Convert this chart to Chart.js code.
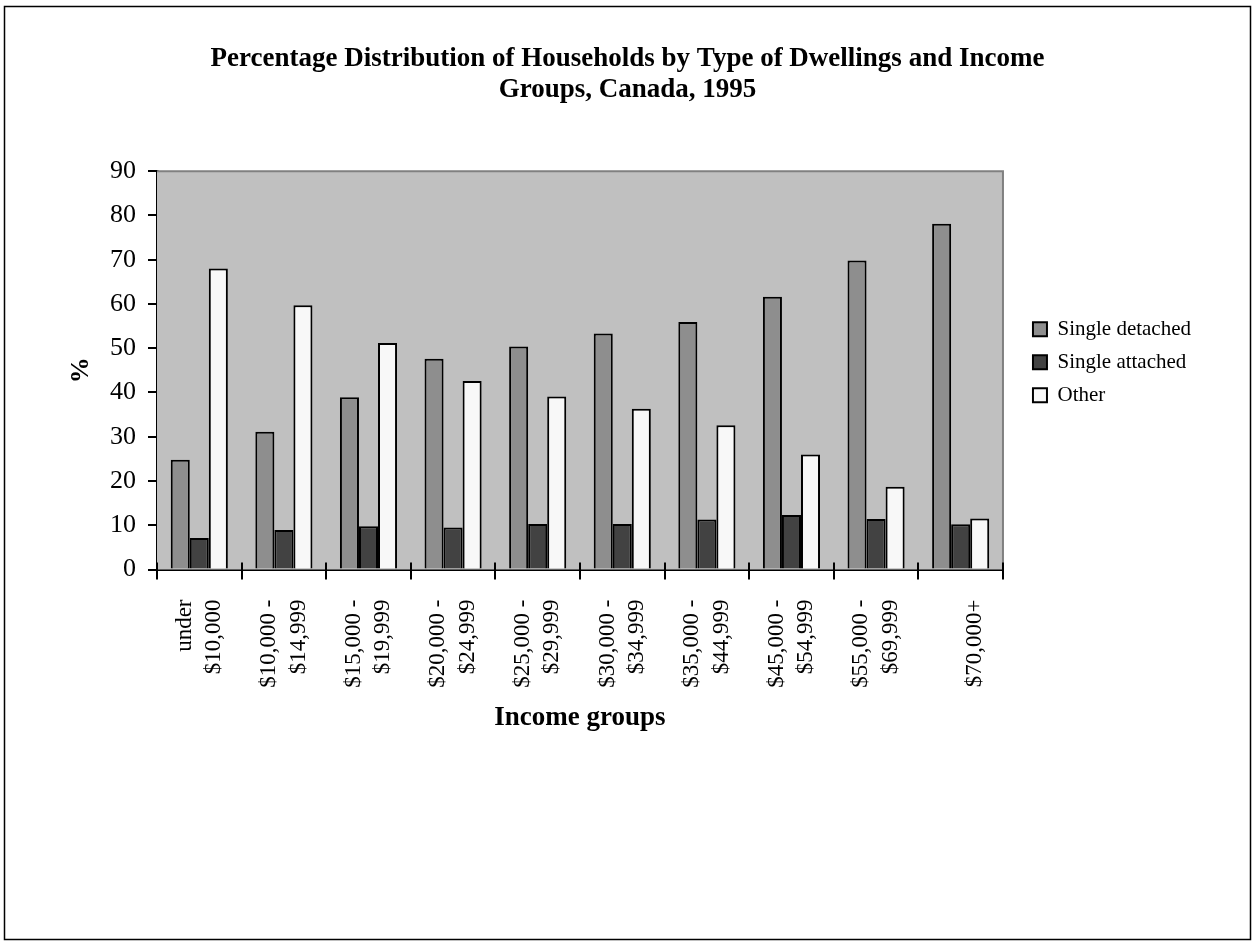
<!DOCTYPE html>
<html>
<head>
<meta charset="utf-8">
<script src="https://cdn.jsdelivr.net/npm/chart.js@4.4.0/dist/chart.umd.min.js"></script>
<style>
    html, body { margin: 0; padding: 0; background: #fff; }
</style>
</head>
<body>
<canvas id="chart" width="1255" height="943"></canvas>
<script>
// income groups (two-line tick labels), values in %
const incomeGroups = [
    ['under', '$10,000'],
    ['$10,000 -', '$14,999'],
    ['$15,000 -', '$19,999'],
    ['$20,000 -', '$24,999'],
    ['$25,000 -', '$29,999'],
    ['$30,000 -', '$34,999'],
    ['$35,000 -', '$44,999'],
    ['$45,000 -', '$54,999'],
    ['$55,000 -', '$69,999'],
    ['', '$70,000+']
]
const singleDetached = [24.8, 31.1, 38.9, 47.6, 50.4, 53.3, 55.9, 61.6, 69.8, 78.1]
const singleAttached = [7.1, 8.9, 9.8, 9.5, 10.3, 10.3, 11.3, 12.3, 11.4, 10.2]
const other = [68.0, 59.7, 51.2, 42.6, 39.1, 36.3, 32.6, 26.0, 18.7, 11.5]
const yMin = 0, yMax = 90, yStep = 10

const serif = 'Liberation Serif'

// grey plot area, grey top/right frame, crossing x ticks and the outer border
const frame = {
    id: 'frame',
    afterLayout(chart) {
        // centre the title on the page, nudge legend away from the plot and up a little
        let tb = chart.titleBlock
        tb.left += 36
        tb.right += 36
        let lg = chart.legend
        lg.left += 18
        lg.right += 18
        lg.top -= 8
        lg.bottom -= 8
    },
    beforeDatasetsDraw(chart) {
        let { ctx, chartArea: a } = chart
        ctx.save()
        ctx.fillStyle = '#c0c0c0'
        ctx.fillRect(a.left, a.top, a.right - a.left, a.bottom - a.top)
        ctx.strokeStyle = '#808080'
        ctx.lineWidth = 2
        ctx.beginPath()
        ctx.moveTo(a.left, a.top)
        ctx.lineTo(a.right, a.top)
        ctx.lineTo(a.right, a.bottom)
        ctx.stroke()
        ctx.restore()
    },
    afterDraw(chart) {
        let { ctx, chartArea: a } = chart
        let xs = chart.scales.x
        ctx.save()
        ctx.strokeStyle = '#000'
        ctx.lineWidth = 2
        ctx.beginPath()
        for (let i = 0; i <= incomeGroups.length; i++) {
            let px = Math.round(xs.getPixelForValue(i - 0.5))
            ctx.moveTo(px, a.bottom - 7)
            ctx.lineTo(px, a.bottom + 10)
        }
        ctx.stroke()
        ctx.lineWidth = 1.5
        ctx.strokeRect(4.5, 6.5, 1246, 933)
        ctx.restore()
    }
}

new Chart(document.getElementById('chart'), {
    type: 'bar',
    data: {
        labels: incomeGroups,
        datasets: [
            { label: 'Single detached', data: singleDetached, backgroundColor: '#8e8e8e' },
            { label: 'Single attached', data: singleAttached, backgroundColor: '#424242' },
            { label: 'Other', data: other, backgroundColor: '#f8f8f8' }
        ]
    },
    options: {
        responsive: false,
        animation: false,
        layout: { padding: { left: 0, right: 72, top: 0, bottom: 190 } },
        datasets: {
            bar: {
                borderColor: '#000',
                borderWidth: 2,
                categoryPercentage: 0.675,
                barPercentage: 1
            }
        },
        scales: {
            x: {
                grid: { display: false },
                border: { color: '#000', width: 3 },
                ticks: {
                    color: '#000',
                    font: { family: serif, size: 23, lineHeight: 1.28 },
                    minRotation: 90,
                    maxRotation: 90,
                    autoSkip: false,
                    padding: 22,
                    // centre the two label lines on the group
                    labelOffset: -14.7
                },
                title: {
                    display: true,
                    text: 'Income groups',
                    color: '#000',
                    font: { family: serif, size: 27, weight: 'bold' },
                    padding: { top: 0, bottom: 19 }
                },
                afterFit: (scale) => { scale.height = 183.5 }
            },
            y: {
                min: yMin,
                max: yMax,
                grid: { display: true, drawOnChartArea: false, color: '#000', lineWidth: 2, tickLength: 9 },
                border: { color: '#000', width: 2.5 },
                ticks: {
                    stepSize: yStep,
                    color: '#000',
                    font: { family: serif, size: 26 },
                    padding: 12
                },
                title: {
                    display: true,
                    text: '%',
                    color: '#000',
                    font: { family: serif, size: 26, weight: 'bold' },
                    padding: { top: 66, bottom: 0 }
                },
                afterFit: (scale) => { scale.width = 157 }
            }
        },
        plugins: {
            title: {
                display: true,
                text: ['Percentage Distribution of Households by Type of Dwellings and Income', 'Groups, Canada, 1995'],
                color: '#000',
                font: { family: serif, size: 27, weight: 'bold', lineHeight: 1.17 },
                padding: { top: 43, bottom: 65 }
            },
            legend: {
                position: 'right',
                align: 'center',
                fullSize: false,
                labels: {
                    color: '#000',
                    font: { family: serif, size: 21 },
                    boxWidth: 14,
                    boxHeight: 14,
                    padding: 12
                }
            },
            tooltip: { enabled: false }
        }
    },
    plugins: [frame]
})
</script>
</body>
</html>
